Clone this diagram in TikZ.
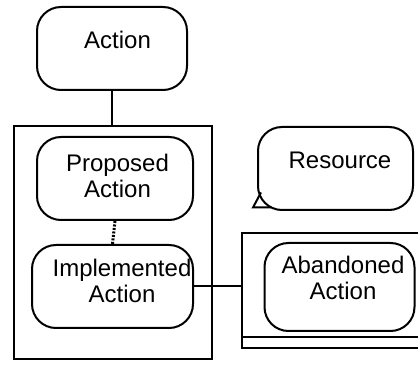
\documentclass[tikz,border=0pt]{standalone}
\usepackage{fontspec}
\setmainfont{Liberation Sans}
\begin{document}
\begin{tikzpicture}[x=1pt,y=-1pt,
  line width=2pt,
  rbox/.style={draw,rounded corners=24pt,inner sep=0pt,minimum width=#1},
  cbox/.style={draw,inner sep=0pt,rectangle},
  lbl/.style={inner sep=0pt,align=center,font=\fontsize{24}{26}\selectfont}]
\useasboundingbox (0,0) rectangle (418,366);
\clip (0,0) rectangle (418,366);
% boxes
\node[rbox=150pt,minimum height=83pt] (action) at (112,48.5) {};
\node[cbox,minimum width=198pt,minimum height=233pt] (cont) at (113,242.5) {};
\node[rbox=156pt,minimum height=83pt] (prop) at (115,178.5) {};
\node[rbox=161pt,minimum height=83pt] (impl) at (112.5,286.5) {};
\node[rbox=155pt,minimum height=83pt] (res) at (335.5,168.5) {};
\node[cbox,minimum width=200pt,minimum height=115pt] (abcont) at (342,290.5) {};
\node[rbox=150pt,minimum height=88pt] (aban) at (339.5,287) {};
% double bottom line of abandoned container
\coordinate (dl) at (242,337);
\coordinate (dr) at (442,337);
\draw (dl) -- (dr);
% speech tail of resource
\coordinate (t1) at (261,192.5);
\coordinate (t2) at (253,207.5);
\coordinate (t3) at (271,207.5);
\draw[line join=miter] (t1) -- (t2) -- (t3);
% labels
\node[lbl] (tact) at (117.5,40) {Action};
\node[lbl] (tprop) at (117.5,176) {Proposed\\Action};
\node[lbl] (timpl) at (122,281) {Implemented\\Action};
\node[lbl] (tres) at (340,160) {Resource};
\node[lbl] (taban) at (343,278) {Abandoned\\Action};
% connectors
\draw (action.south) -- (action.south |- cont.north);
\draw[line width=3pt,dash pattern=on 2pt off 1.5pt] (prop.south) -- (impl.north);
\draw (impl.east) -- (impl.east -| abcont.west);
\end{tikzpicture}
\end{document}
